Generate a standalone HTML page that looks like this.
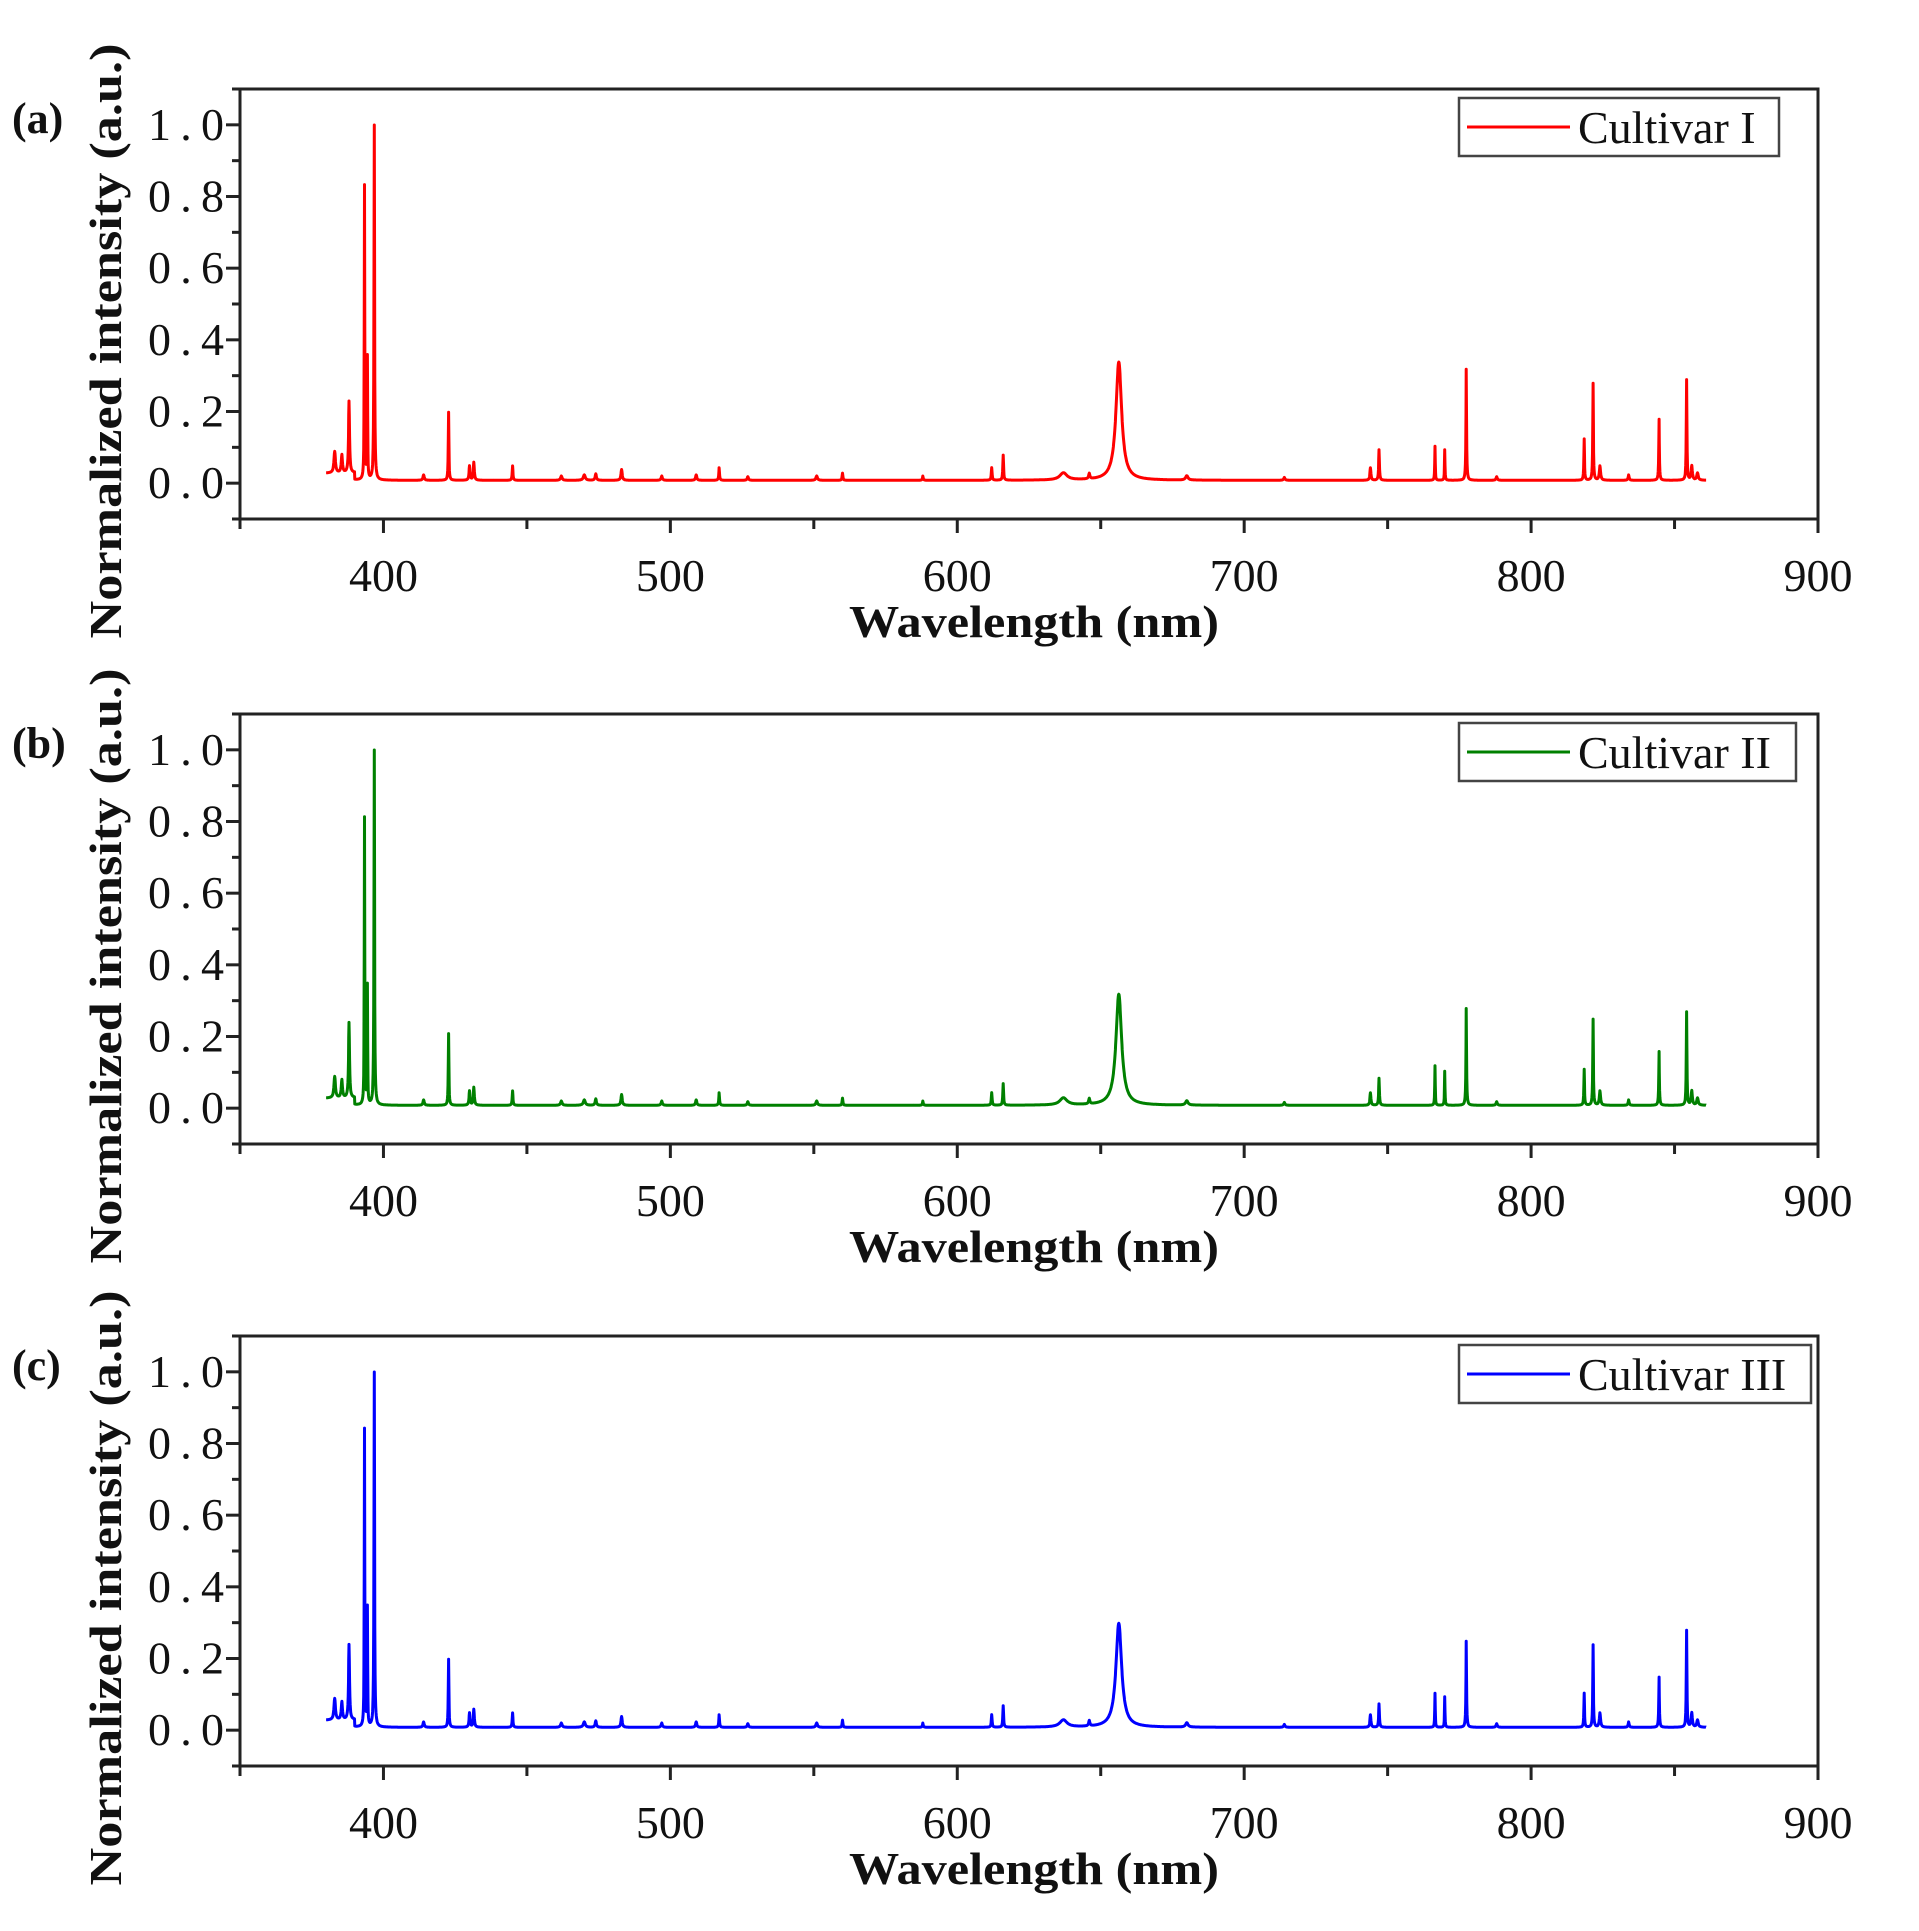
<!DOCTYPE html>
<html><head><meta charset="utf-8"><style>
html,body{margin:0;padding:0;background:#fff;}
svg{display:block;}
text{font-family:"Liberation Serif",serif;fill:#111;}
</style></head><body>
<svg id="fig" width="1919" height="1931" viewBox="0 0 1919 1931" xmlns="http://www.w3.org/2000/svg"></svg>
<script>
// Data: emission lines [wavelength nm, intensity, half-width nm]
const wlStart = 380, wlEnd = 861;
const commonSmall = [[383,0.06,0.6],[385.5,0.05,0.5],[414,0.015,0.5],[430,0.04,0.4],[431.5,0.05,0.4],[445,0.04,0.3],[462,0.012,0.6],[470,0.015,0.8],[474,0.018,0.5],[483,0.03,0.5],[497,0.012,0.5],[509,0.015,0.5],[517,0.035,0.3],[527,0.01,0.5],[551,0.012,0.6],[560,0.02,0.3],[588,0.012,0.3],[612,0.035,0.3],[637,0.02,1.5],[646,0.015,0.5],[680,0.012,1.0],[714,0.008,0.5],[744,0.035,0.4],[788,0.01,0.5],[824,0.04,0.5],[834,0.015,0.4],[856,0.04,0.5],[858,0.02,0.6]];
const peaksA = [[388,0.2,0.4],[393.4,0.82,0.2],[394.4,0.34,0.2],[396.8,0.99,0.25],[422.7,0.19,0.25],[616,0.07,0.3],[656.3,0.33,1.2],[747,0.085,0.3],[766.5,0.095,0.2],[769.9,0.085,0.2],[777.4,0.31,0.25],[818.5,0.115,0.25],[821.6,0.27,0.25],[844.6,0.17,0.25],[854.2,0.28,0.25]];
const peaksB = [[388,0.21,0.4],[393.4,0.8,0.2],[394.4,0.33,0.2],[396.8,0.99,0.25],[422.7,0.2,0.25],[616,0.06,0.3],[656.3,0.31,1.2],[747,0.075,0.3],[766.5,0.11,0.2],[769.9,0.095,0.2],[777.4,0.27,0.25],[818.5,0.1,0.25],[821.6,0.24,0.25],[844.6,0.15,0.25],[854.2,0.26,0.25]];
const peaksC = [[388,0.21,0.4],[393.4,0.83,0.2],[394.4,0.33,0.2],[396.8,0.99,0.25],[422.7,0.19,0.25],[616,0.06,0.3],[656.3,0.29,1.2],[747,0.065,0.3],[766.5,0.095,0.2],[769.9,0.085,0.2],[777.4,0.24,0.25],[818.5,0.095,0.25],[821.6,0.23,0.25],[844.6,0.14,0.25],[854.2,0.27,0.25]];
const xTicks = [400,500,600,700,800,900];
const yTicks = [0.0,0.2,0.4,0.6,0.8,1.0];
const seriesNames = ["Cultivar I","Cultivar II","Cultivar III"];
const panelLabels = ["(a)","(b)","(c)"];

const NS = "http://www.w3.org/2000/svg";
const svg = document.getElementById('fig');
function mk(tag, attrs, parent){const e=document.createElementNS(NS,tag);for(const k in attrs)e.setAttribute(k,attrs[k]);(parent||svg).appendChild(e);return e;}

const panels = [
  {top:89, peaks:peaksA, color:'#ff0000', legW:320, name:'a'},
  {top:714, peaks:peaksB, color:'#008000', legW:337, name:'b'},
  {top:1336, peaks:peaksC, color:'#0000ff', legW:352, name:'c'}
];
const L=240, R=1818, H=430;
const xMin=350, xMax=900, yMin=-0.1, yMax=1.1;

panels.forEach((p,i)=>{
  const g = mk('g',{});
  
  
  const T=p.top, B=p.top+H;
  const xs = v => L + (v-xMin)/(xMax-xMin)*(R-L);
  const ys = v => B - (v-yMin)/(yMax-yMin)*H;

  const all = commonSmall.concat(p.peaks);
  let d='';
  for(let w=wlStart; w<=wlEnd+1e-9; w+=0.1){
    let v = 0.008;
    if(w<390) v += 0.02;
    for(const pk of all){const t=(w-pk[0])/pk[2]; v += pk[1]/(1+t*t*(pk[2]>1?1:4));}
    d += (d?'L':'M')+xs(w).toFixed(1)+','+ys(v).toFixed(1);
  }
  const line = mk('path',{d:d,fill:'none',stroke:p.color,'stroke-width':3,'stroke-linejoin':'round'},g);
  
  

  const fr = mk('rect',{x:L,y:T,width:R-L,height:H,fill:'none',stroke:'#222','stroke-width':3},g);
  
  

  for(let v=350; v<=900; v+=50){
    const major = v%100===0;
    mk('line',{x1:xs(v),x2:xs(v),y1:B,y2:B+(major?14:10),stroke:'#222','stroke-width':3},g);
  }
  xTicks.forEach(v=>{
    const t = mk('text',{x:xs(v),y:B+72,'font-size':46,'text-anchor':'middle'},g);
    t.textContent = v;
    
    
  });
  for(let k=-1;k<=11;k++){
    const v=k/10; const major = k%2===0 && k>=0;
    mk('line',{x1:L,x2:L-(major?14:8),y1:ys(v),y2:ys(v),stroke:'#222','stroke-width':3},g);
  }
  yTicks.forEach(v=>{
    const t = mk('text',{x:224,y:ys(v)+15,'font-size':46,'text-anchor':'end',textLength:76,lengthAdjust:'spacing'},g);
    t.textContent = v.toFixed(1);
    
    
  });
  const xt = mk('text',{x:1034,y:B+118,'font-size':46,'font-weight':'bold','text-anchor':'middle',textLength:370,lengthAdjust:'spacingAndGlyphs'},g);
  xt.textContent='Wavelength (nm)';
  
  
  const cy = T+252;
  const yt = mk('text',{x:0,y:0,'font-size':46,'font-weight':'bold','text-anchor':'middle',textLength:595,lengthAdjust:'spacingAndGlyphs',transform:`translate(121,${cy}) rotate(-90)`},g);
  yt.textContent='Normalized intensity (a.u.)';
  
  
  const pl = mk('text',{x:12,y:T+44,'font-size':44,'font-weight':'bold'},g);
  pl.textContent = panelLabels[i];
  
  
  const lg = mk('g',{},g);
  
  
  mk('rect',{x:1459,y:T+9,width:p.legW,height:58,fill:'#fff',stroke:'#444','stroke-width':2.5},lg);
  mk('line',{x1:1467,x2:1570,y1:T+38,y2:T+38,stroke:p.color,'stroke-width':3},lg);
  const lt = mk('text',{x:1578,y:T+54,'font-size':46},lg);
  lt.textContent = seriesNames[i];
  
  
});
</script>
</body></html>
